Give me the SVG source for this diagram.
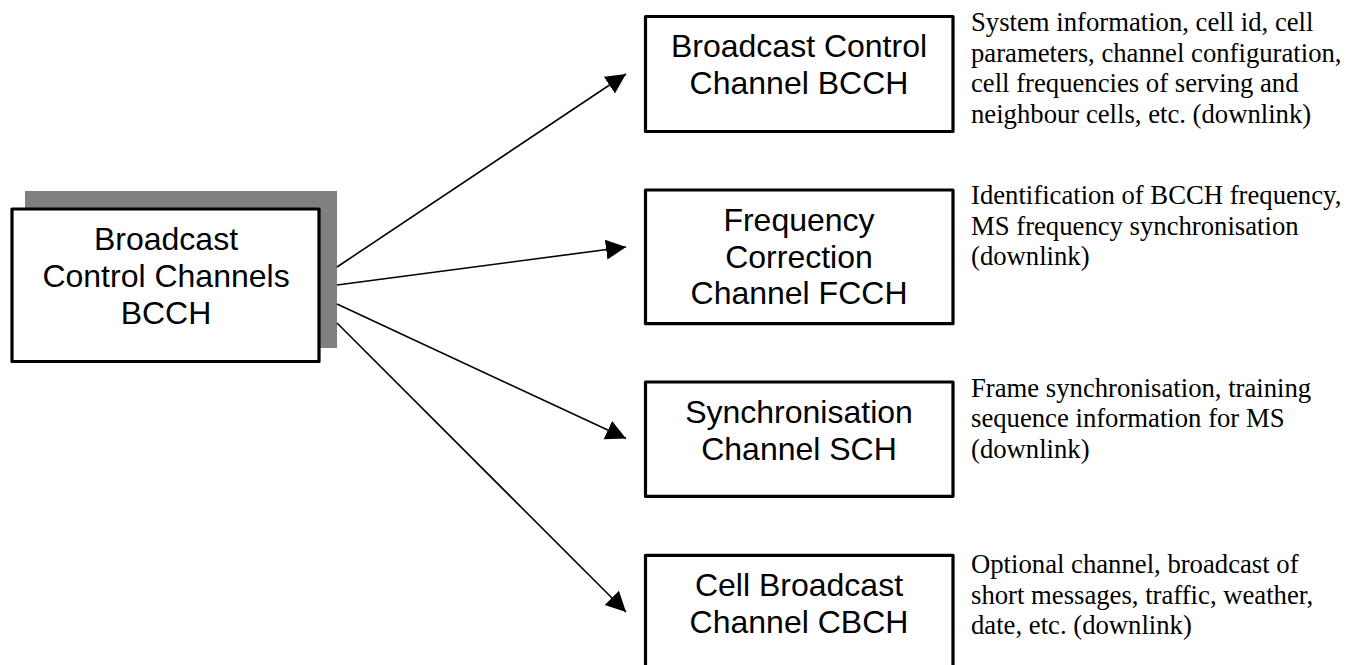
<svg xmlns="http://www.w3.org/2000/svg" width="1346" height="665" viewBox="0 0 1346 665">
  <style>
    .box { fill: #ffffff; stroke: #000000; stroke-width: 3.2; stroke-linejoin: round; }
    .shadow { fill: #808080; stroke: none; }
    .label { font-family: "Liberation Sans", Arial, sans-serif; font-size: 32px; fill: #000000; text-anchor: middle; }
    .desc { font-family: "Liberation Serif", "Times New Roman", serif; font-size: 26.7px; fill: #000000; }
    .conn { stroke: #000000; stroke-width: 1.6; fill: none; marker-end: url(#arrow); }
  </style>
  <defs>
    <marker id="arrow" markerUnits="userSpaceOnUse" markerWidth="22" markerHeight="22" refX="20" refY="10" orient="auto">
      <path d="M0,0 L20,10 L0,20 Z" fill="#000000"/>
    </marker>
  </defs>

  <rect width="1346" height="665" fill="#ffffff"/>

  <!-- source node with drop shadow -->
  <g id="bcch-group">
    <rect class="shadow" x="25" y="191" width="312" height="157"/>
    <rect class="box" x="12" y="209" width="307" height="152.5"/>
    <text class="label" x="166" y="250">Broadcast</text>
    <text class="label" x="166" y="286.8">Control Channels</text>
    <text class="label" x="166" y="323.5">BCCH</text>
  </g>

  <!-- connectors -->
  <g id="connectors">
    <line class="conn" x1="337" y1="267" x2="626" y2="74"/>
    <line class="conn" x1="337" y1="285" x2="626" y2="247"/>
    <line class="conn" x1="337" y1="304" x2="626" y2="438.5"/>
    <line class="conn" x1="337" y1="323" x2="626" y2="612"/>
  </g>

  <g id="bcch">
    <rect class="box" x="645.5" y="16.5" width="307.5" height="115"/>
    <text class="label" x="799" y="56.7">Broadcast Control</text>
    <text class="label" x="799" y="94.3">Channel BCCH</text>
    <text class="desc" x="971" y="31">System information, cell id, cell</text>
    <text class="desc" x="971" y="61.7">parameters, channel configuration,</text>
    <text class="desc" x="971" y="92.4">cell frequencies of serving and</text>
    <text class="desc" x="971" y="123.1">neighbour cells, etc. (downlink)</text>
  </g>

  <g id="fcch">
    <rect class="box" x="645.5" y="190" width="307.5" height="133.7"/>
    <text class="label" x="799" y="231">Frequency</text>
    <text class="label" x="799" y="267.7">Correction</text>
    <text class="label" x="799" y="304.3">Channel FCCH</text>
    <text class="desc" x="971" y="204">Identification of BCCH frequency,</text>
    <text class="desc" x="971" y="234.7">MS frequency synchronisation</text>
    <text class="desc" x="971" y="265.4">(downlink)</text>
  </g>

  <g id="sch">
    <rect class="box" x="645.5" y="382" width="307.5" height="114.3"/>
    <text class="label" x="799" y="423.3">Synchronisation</text>
    <text class="label" x="799" y="460">Channel SCH</text>
    <text class="desc" x="971" y="396.7">Frame synchronisation, training</text>
    <text class="desc" x="971" y="427.4">sequence information for MS</text>
    <text class="desc" x="971" y="458.1">(downlink)</text>
  </g>

  <g id="cbch">
    <rect class="box" x="645.5" y="555.3" width="307.5" height="130"/>
    <text class="label" x="799" y="595.7">Cell Broadcast</text>
    <text class="label" x="799" y="632.7">Channel CBCH</text>
    <text class="desc" x="971" y="573">Optional channel, broadcast of</text>
    <text class="desc" x="971" y="603.7">short messages, traffic, weather,</text>
    <text class="desc" x="971" y="634.4">date, etc. (downlink)</text>
  </g>
</svg>
